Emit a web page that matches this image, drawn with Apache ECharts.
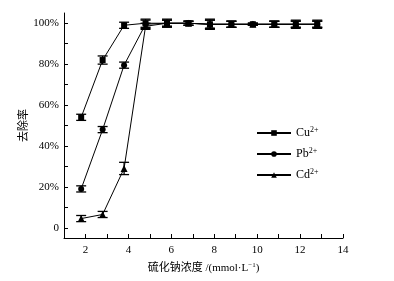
<!DOCTYPE html>
<html>
<head>
<meta charset="utf-8">
<script src="https://cdn.jsdelivr.net/npm/echarts@6/dist/echarts.min.js"></script>
<style>
  html, body { margin: 0; padding: 0; background: #fff; }
  #chart { width: 394px; height: 281px; }
</style>
</head>
<body>
<div id="chart"></div>
<script>
// === ДАННЫЕ ===
const xValues = [1.8, 2.8, 3.8, 4.8, 5.8, 6.8, 7.8, 8.8, 9.8, 10.8, 11.8, 12.8];
const cuValues = [54, 82, 99, 100, 100, 100, 99.5, 99.5, 99.5, 99.5, 99.5, 99.5];
const cuErr = [1.5, 2, 1.5, 2, 2, 1, 2.5, 1.5, 0.5, 1.5, 2, 2];
const pbValues = [19, 48, 79.5, 99.5, 100, 100, 99.5, 99.5, 99.5, 99.5, 99.5, 99.5];
const pbErr = [1.5, 1.5, 1.5, 2, 1.5, 1, 2, 1.5, 0.5, 1.5, 1.5, 1.5];
const cdValues = [4.5, 6.5, 29, 98.5, 100, 100, 99.5, 99.5, 99.5, 99.5, 99.5, 99.5];
const cdErr = [1.5, 1.5, 3, 1.5, 1.5, 1, 2, 1.5, 0.5, 1.5, 1.5, 1.5];
const xTickLabels = [2, 4, 6, 8, 10, 12, 14];
const yTickLabels = [0, 20, 40, 60, 80, 100];

const seriesNames = ['Cu', 'Pb', 'Cd'];
const fontFamily = '"Liberation Serif", "Times New Roman", "Noto Sans CJK SC", serif';

// === ПОДГОТОВКА ===
function points(values) {
    return xValues.map((x, i) => [x, values[i]]);
}
function errPoints(values, errs) {
    return xValues.map((x, i) => [x, values[i] - errs[i], values[i] + errs[i]]);
}

function renderErrorBar(params, api) {
    const x = api.value(0);
    const low = api.coord([x, api.value(1)]);
    const high = api.coord([x, api.value(2)]);
    const half = 5;
    const style = { stroke: '#000', lineWidth: 1.3 };
    return {
        type: 'group',
        children: [
            { type: 'line', shape: { x1: low[0], y1: low[1], x2: high[0], y2: high[1] }, style: style },
            { type: 'line', shape: { x1: low[0] - half, y1: low[1], x2: low[0] + half, y2: low[1] }, style: style },
            { type: 'line', shape: { x1: high[0] - half, y1: high[1], x2: high[0] + half, y2: high[1] }, style: style }
        ]
    };
}

function lineSeries(name, values, symbol, size) {
    return {
        name: name,
        type: 'line',
        data: points(values),
        symbol: symbol,
        symbolSize: size,
        showAllSymbol: true,
        itemStyle: { color: '#000' },
        lineStyle: { color: '#000', width: 1 },
        z: 3
    };
}

function errSeries(values, errs) {
    return {
        type: 'custom',
        renderItem: renderErrorBar,
        encode: { x: 0, y: [1, 2] },
        data: errPoints(values, errs),
        silent: true,
        z: 2
    };
}

// === РЕНДЕРИНГ ===
const chart = echarts.init(document.getElementById('chart'), null, { renderer: 'canvas' });

const axisCommon = {
    axisLine: { onZero: false, lineStyle: { color: '#000', width: 1 } },
    axisTick: { inside: true, length: 4, lineStyle: { color: '#000' } },
    splitLine: { show: false },
    axisLabel: { color: '#000', fontSize: 11, fontFamily: fontFamily }
};

const option = {
    animation: false,
    backgroundColor: '#fff',
    grid: { left: 64, right: 51, top: 13, bottom: 43 },
    legend: {
        orient: 'vertical',
        left: 251,
        top: 121,
        itemWidth: 34,
        itemHeight: 7,
        itemGap: 8,
        data: seriesNames,
        formatter: name => name + '{sup|2+}',
        textStyle: {
            color: '#000',
            fontSize: 12,
            fontFamily: fontFamily,
            rich: {
                sup: { fontSize: 8, fontFamily: fontFamily, verticalAlign: 'top', padding: [0, 0, 6, 0] }
            }
        }
    },
    xAxis: Object.assign({}, axisCommon, {
        type: 'value',
        min: 1,
        max: 14,
        axisTick: Object.assign({}, axisCommon.axisTick, { customValues: [1, 2, 3, 4, 5, 6, 7, 8, 9, 10, 11, 12, 13, 14] }),
        axisLabel: Object.assign({}, axisCommon.axisLabel, { customValues: xTickLabels, margin: 7 }),
        name: '硫化钠浓度 /(mmol·L{sup|−1})',
        nameLocation: 'middle',
        nameGap: 24,
        nameMoveOverlap: false,
        nameTextStyle: {
            color: '#000',
            fontSize: 11,
            fontFamily: fontFamily,
            rich: {
                sup: { fontSize: 7, fontFamily: fontFamily, verticalAlign: 'top', padding: [0, 0, 5, 0] }
            }
        }
    }),
    yAxis: Object.assign({}, axisCommon, {
        type: 'value',
        min: -5,
        max: 105,
        axisTick: Object.assign({}, axisCommon.axisTick, { customValues: [0, 10, 20, 30, 40, 50, 60, 70, 80, 90, 100] }),
        axisLabel: Object.assign({}, axisCommon.axisLabel, {
            customValues: yTickLabels,
            margin: 5,
            formatter: v => (v === 0 ? '0' : v + '%')
        }),
        name: '去除率',
        nameLocation: 'middle',
        nameGap: 34,
        nameMoveOverlap: false,
        nameRotate: 90,
        nameTextStyle: { color: '#000', fontSize: 11, fontFamily: fontFamily }
    }),
    series: [
        lineSeries('Cu', cuValues, 'rect', 6),
        lineSeries('Pb', pbValues, 'circle', 6),
        lineSeries('Cd', cdValues, 'triangle', 7),
        errSeries(cuValues, cuErr),
        errSeries(pbValues, pbErr),
        errSeries(cdValues, cdErr)
    ]
};

chart.setOption(option);
</script>
</body>
</html>
